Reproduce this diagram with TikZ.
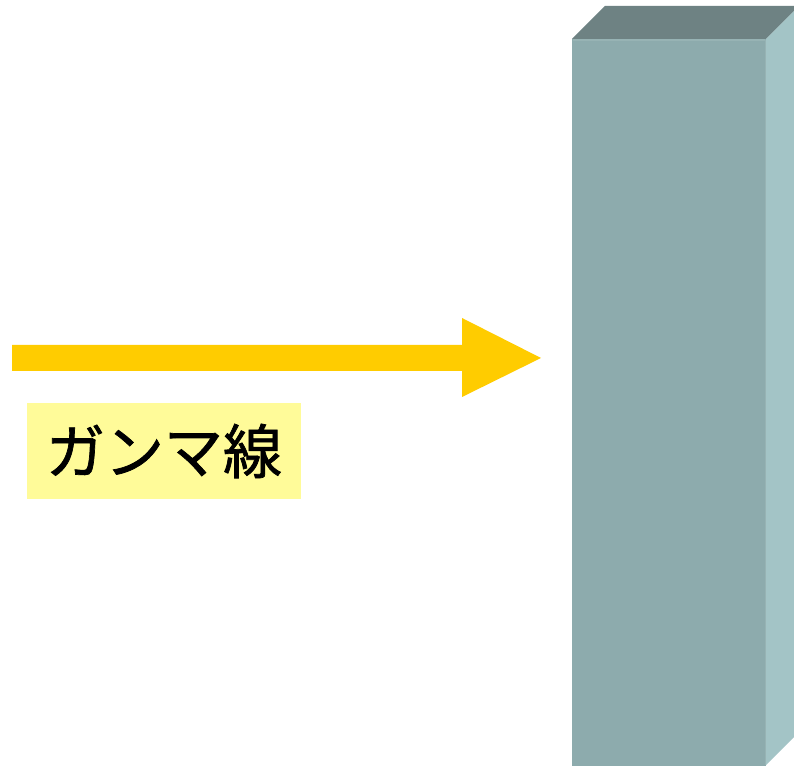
\documentclass[tikz,border=0pt]{standalone}
\usepackage{fontspec}
\newfontfamily\jpfont[FakeBold=1.2]{Noto Sans CJK JP}
\definecolor{topface}{HTML}{6E8283}
\definecolor{frontface}{HTML}{8DABAD}
\definecolor{sideface}{HTML}{A3C4C6}
\definecolor{edgeline}{HTML}{97B3B4}
\definecolor{arrowgold}{HTML}{FFCC00}
\definecolor{labelbg}{HTML}{FFFB99}
\tikzset{
  labelbox/.style={fill=labelbg, inner sep=0pt, minimum width=274pt, minimum height=96pt, font=\jpfont\fontsize{59}{62}\selectfont, text=black},
}
\begin{document}
\begin{tikzpicture}[x=1pt,y=1pt]
\useasboundingbox (0,0) rectangle (794,765);
\fill[white] (0,0) rectangle (794,765);
\begin{scope}
\clip (0,0) rectangle (794,765);
% slab
\fill[frontface] (572,-10) rectangle (766,726);
\fill[topface] (572,726) -- (766,726) -- (799,759) -- (605,759) -- cycle;
\fill[sideface] (766,0) -- (799,33) -- (799,759) -- (766,726) -- cycle;
\draw[edgeline, line width=1.5pt] (572.5,725) -- (765,725);
\draw[edgeline, line width=1pt] (765.5,0) -- (765.5,725);
\end{scope}
% arrow
\coordinate (tail) at (12,407);
\node[coordinate] (tip) at (541,407) {};
\fill[arrowgold] (tail) ++(0,13) -- (462,420) -- (462,447) -- (tip) -- (462,368) -- (462,394) -- (12,394) -- cycle;
% label
\node[labelbox] (label) at (164,314) {ガンマ線};
\end{tikzpicture}
\end{document}
